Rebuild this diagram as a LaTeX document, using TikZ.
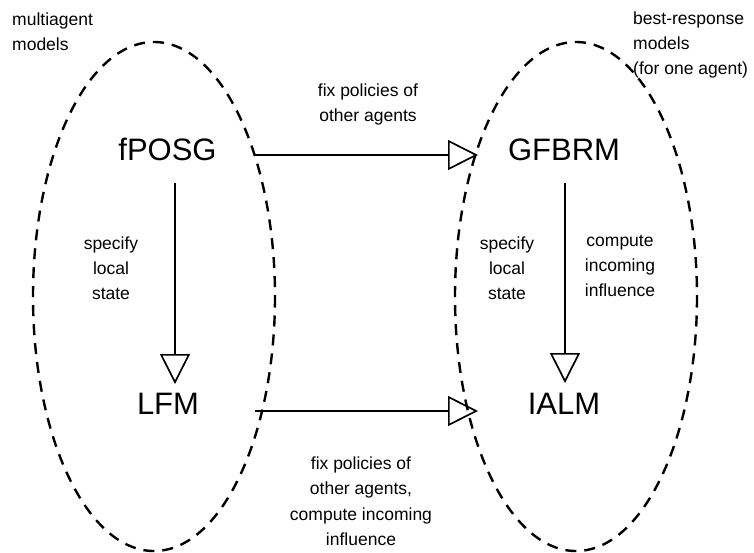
\documentclass[tikz,border=0pt]{standalone}
\usepackage{fontspec}
\setmainfont{Liberation Sans}
\usetikzlibrary{arrows.meta}
\begin{document}
\begin{tikzpicture}[x=1pt,y=-1pt,
  big/.style={font=\fontsize{31}{36}\selectfont, inner sep=0pt, anchor=base},
  small/.style={font=\fontsize{17.5}{25}\selectfont, inner sep=0pt, align=center, anchor=base},
  smallleft/.style={font=\fontsize{17.5}{25}\selectfont, inner sep=0pt, align=left, anchor=base west},
  group/.style={draw, line width=2.4pt, dash pattern=on 11pt off 8pt},
  arr/.style={draw, line width=1.7pt, -{Triangle[open, length=30pt, width=30pt, line width=1.7pt]}}
]
\useasboundingbox (0,0) rectangle (754,552);
% groups
\draw[group] (154,296.5) ellipse [x radius=121, y radius=254.5];
\draw[group] (576,296.5) ellipse [x radius=121, y radius=254.5];
% labels (base anchor = baseline of last line)
\node[big] (fposg) at (167.5,160) {fPOSG};
\node[big] (gfbrm) at (564,160) {GFBRM};
\node[big] (lfm) at (168,414) {LFM};
\node[big] (ialm) at (564,414) {IALM};
\node[smallleft] (ma) at (12,50) {multiagent\\models};
\node[smallleft] (br) at (633,74) {best-response\\models\\(for one agent)};
\node[small] (fix1) at (368,121) {fix policies of\\other agents};
\node[small, font=\fontsize{17.5}{25.5}\selectfont] (fix2) at (361,545.5) {fix policies of\\other agents,\\compute incoming\\influence};
\node[small] (sp1) at (111,299) {specify\\local\\state};
\node[small] (sp2) at (507,299) {specify\\local\\state};
\node[small] (ci) at (620,296) {compute\\incoming\\influence};
% arrow end points
\coordinate (a1s) at (255,155); \coordinate (a1e) at (478,155);
\coordinate (a2s) at (255,411); \coordinate (a2e) at (478,411);
\coordinate (a3s) at (175,183); \coordinate (a3e) at (175,384);
\coordinate (a4s) at (565,183); \coordinate (a4e) at (565,383);
\draw[arr] (a1s) -- (a1e);
\draw[arr] (a2s) -- (a2e);
\draw[arr] (a3s) -- (a3e);
\draw[arr] (a4s) -- (a4e);
\end{tikzpicture}
\end{document}
